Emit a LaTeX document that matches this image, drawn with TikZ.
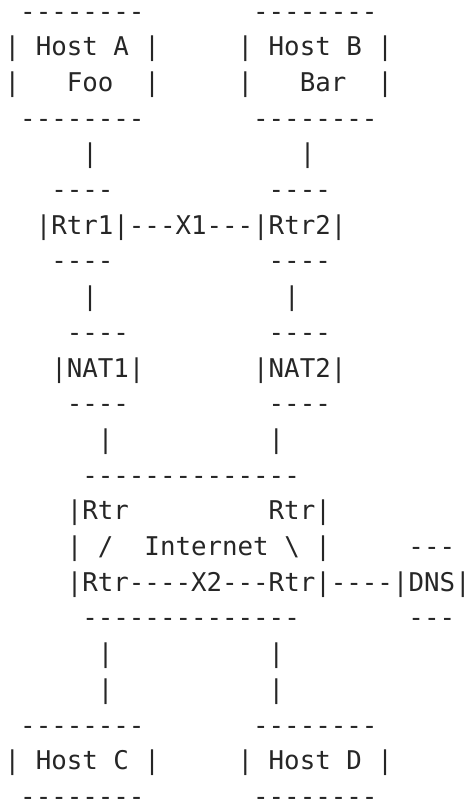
\documentclass[tikz,border=0pt]{standalone}
\usepackage{fontspec}
\setmonofont{DejaVu Sans Mono}
\usepackage{xcolor}
\definecolor{asciiInk}{HTML}{262626}

\begin{document}
\begin{tikzpicture}[x=15.53pt, y=-35.7pt,
    ascii/.style={font=\ttfamily\fontsize{25.8}{30}\selectfont, text=asciiInk,
                  anchor=base west, inner sep=0pt, outer sep=0pt}]
    \useasboundingbox (-4.7pt,20pt) rectangle (464.3pt,-781pt);
    % hosts on top
    \node[ascii] (topA) at (1,0) {--------};
    \node[ascii] (topB) at (16,0) {--------};
    \node[ascii] (hostA) at (0,1) {| Host A |};
    \node[ascii] (hostB) at (15,1) {| Host B |};
    \node[ascii] (foo) at (0,2) {|\ \ \ Foo\ \ |};
    \node[ascii] (bar) at (15,2) {|\ \ \ Bar\ \ |};
    \node[ascii] (botA) at (1,3) {--------};
    \node[ascii] (botB) at (16,3) {--------};
    \node[ascii] (linkA) at (5,4) {|};
    \node[ascii] (linkB) at (19,4) {|};
    % routers
    \node[ascii] (rtrTopA) at (3,5) {----};
    \node[ascii] (rtrTopB) at (17,5) {----};
    \node[ascii] (rtrs) at (2,6) {|Rtr1|---X1---|Rtr2|};
    \node[ascii] (rtrBotA) at (3,7) {----};
    \node[ascii] (rtrBotB) at (17,7) {----};
    \node[ascii] (rtrLinkA) at (5,8) {|};
    \node[ascii] (rtrLinkB) at (18,8) {|};
    % nats
    \node[ascii] (natTopA) at (4,9) {----};
    \node[ascii] (natTopB) at (17,9) {----};
    \node[ascii] (natA) at (3,10) {|NAT1|};
    \node[ascii] (natB) at (16,10) {|NAT2|};
    \node[ascii] (natBotA) at (4,11) {----};
    \node[ascii] (natBotB) at (17,11) {----};
    \node[ascii] (natLinkA) at (6,12) {|};
    \node[ascii] (natLinkB) at (17,12) {|};
    % internet and dns
    \node[ascii] (netTop) at (5,13) {--------------};
    \node[ascii] (netRtrA) at (4,14) {|Rtr};
    \node[ascii] (netRtrB) at (17,14) {Rtr|};
    \node[ascii] (net) at (4,15) {|\ /\ \ Internet\ \textbackslash\ |};
    \node[ascii] (dnsTop) at (26,15) {---};
    \node[ascii] (netRtrs) at (4,16) {|Rtr----X2---Rtr|----|DNS|};
    \node[ascii] (netBot) at (5,17) {--------------};
    \node[ascii] (dnsBot) at (26,17) {---};
    \node[ascii] (netLinkA) at (6,18) {|};
    \node[ascii] (netLinkB) at (17,18) {|};
    \node[ascii] (netLinkC) at (6,19) {|};
    \node[ascii] (netLinkD) at (17,19) {|};
    % hosts at the bottom
    \node[ascii] (topC) at (1,20) {--------};
    \node[ascii] (topD) at (16,20) {--------};
    \node[ascii] (hostC) at (0,21) {| Host C |};
    \node[ascii] (hostD) at (15,21) {| Host D |};
    \node[ascii] (botC) at (1,22) {--------};
    \node[ascii] (botD) at (16,22) {--------};
\end{tikzpicture}
\end{document}
